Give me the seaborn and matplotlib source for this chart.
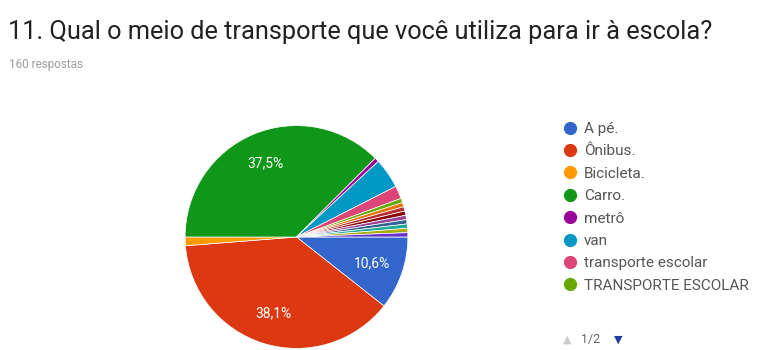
import matplotlib
matplotlib.use("Agg")
import matplotlib.pyplot as plt
from matplotlib.lines import Line2D
import seaborn as sns

# Respostas (160 no total)
categorias = ["A pé.", "Ônibus.", "Bicicleta.", "Carro.", "metrô", "van",
              "transporte escolar", "TRANSPORTE ESCOLAR"]
contagens = [17, 61, 2, 60, 1, 7, 3, 1]
# respostas restantes (segunda página da legenda)
outras = [1, 1, 1, 1, 1, 1, 1, 1]
total_respostas = 160

cores_hex = ["#3366cc", "#dc3912", "#ff9900", "#109618", "#990099", "#0099c6",
             "#dd4477", "#66aa00", "#e67300", "#b82e2e", "#8b0707", "#994499",
             "#316395", "#22aa99", "#aaaa11", "#6633cc"]

titulo = "11. Qual o meio de transporte que você utiliza para ir à escola?"
subtitulo = f"{total_respostas} respostas"

sns.set_theme(style="white")
plt.rcParams["font.family"] = ["Roboto", "DejaVu Sans"]
paleta = sns.color_palette(cores_hex)

W, H = 767, 350
fig = plt.figure(figsize=(W / 100, H / 100), dpi=100)
fig.patch.set_facecolor("white")

valores = contagens + outras
cx, cy, r = 296.5, 237, 112.5
ax = fig.add_axes([(cx - r) / W, (H - cy - r) / H, 2 * r / W, 2 * r / H])


def rotulo(pct):
    return f"{pct:.1f}%".replace(".", ",") if pct >= 5 else ""


wedges, _, autotexts = ax.pie(
    valores, colors=paleta[:len(valores)], startangle=0, counterclock=False,
    radius=1, autopct=rotulo, pctdistance=0.72,
    wedgeprops=dict(edgecolor="white", linewidth=0.5),
    textprops=dict(color="white", fontsize=10),
)
ax.set_xlim(-1.01, 1.01)
ax.set_ylim(-1.01, 1.01)
ax.axis("off")

fig.text(8 / W, 1 - 39 / H, titulo, fontsize=18.3, color="#212121",
         ha="left", va="baseline")
fig.text(9 / W, 1 - 68 / H, subtitulo, fontsize=8.5, color="#9e9e9e",
         ha="left", va="baseline")

handles = [Line2D([], [], marker="o", linestyle="", markersize=8.5,
                  markerfacecolor=paleta[i], markeredgecolor=paleta[i])
           for i in range(len(categorias))]
fig.legend(handles, categorias, loc="upper left",
           bbox_to_anchor=(562 / W, 1 - 122 / H), frameon=False,
           fontsize=11, labelcolor="#555555", handlelength=1.0,
           handletextpad=0.45, labelspacing=0.55, borderaxespad=0,
           borderpad=0)

fig.text(567 / W, 1 - 340 / H, "▲", fontsize=8, color="#cccccc",
         ha="center", va="center", family="DejaVu Sans")
fig.text(591 / W, 1 - 340 / H, "1/2", fontsize=9, color="#666666",
         ha="center", va="center")
fig.text(618 / W, 1 - 340 / H, "▼", fontsize=8, color="#1a3fa0",
         ha="center", va="center", family="DejaVu Sans")

fig.savefig("out.png", dpi=100, facecolor="white")
